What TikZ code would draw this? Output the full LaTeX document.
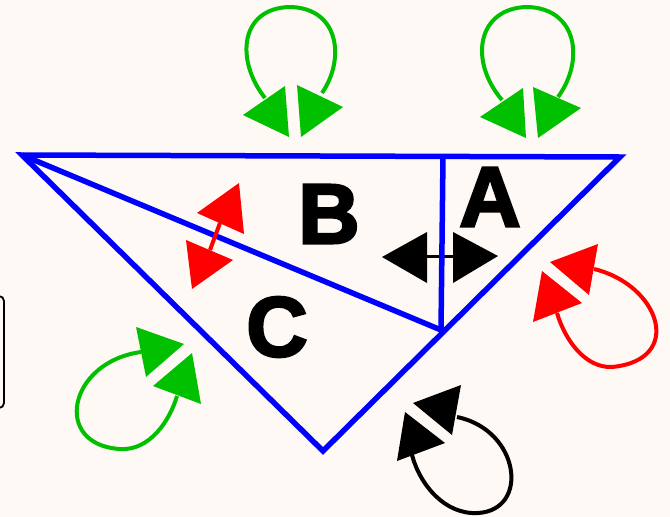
\documentclass[tikz,border=0pt]{standalone}
\usepackage{fontspec}
\newfontfamily\heavy{Liberation Sans}[FakeBold=3]
\definecolor{bg}{RGB}{254,249,244}
\definecolor{gr}{RGB}{0,192,0}
\begin{document}
\begin{tikzpicture}[x=1pt,y=-1pt,
  edge/.style={line width=5.5pt,blue},
  loopline/.style={line width=4pt},
  letter/.style={inner sep=0pt,font=\heavy\bfseries\fontsize{85}{85}\selectfont}]
\useasboundingbox (0,0) rectangle (670,517);
\fill[bg] (0,0) rectangle (670,517);
% partial box at left edge
\begin{scope}
\clip (0,0) rectangle (670,517);
\draw[line width=1.8pt,rounded corners=5pt] (-40,296) rectangle (4,408);
\end{scope}
% coordinates
\coordinate (tl) at (22,155);
\coordinate (tr) at (620,157);
\coordinate (bt) at (323,451);
\coordinate (mid) at (441,330);
\coordinate (top) at (443,157);
% black double arrow (under blue)
\fill (382,257) -- (427,232) -- (427,283) -- cycle;
\fill (453,232) -- (453,283) -- (498,256) -- cycle;
\draw[line width=3pt] (427,256) -- (453,256);
% triangle
\draw[edge,line join=miter] (tl) -- (tr) -- (bt) -- cycle;
\draw[edge] (tl) -- (mid);
\draw[edge] (top) -- (mid);
% letters
\node[letter] (B) at (329,214) {B};
\node[letter] (A) at (490,197) {A};
\node[letter] (C) at (277,327) {C};
% red double arrow
\draw[red,line width=4pt] (220,223) -- (210,250);
\fill[red] (239,183) -- (197,213) -- (244,234) -- cycle;
\fill[red] (186,240) -- (233,260) -- (192,289) -- cycle;
% top B loop
\draw[gr,loopline] (265,98) .. controls (235,60) and (240,8) .. (290,7) .. controls (340,8) and (345,60) .. (322,93);
\fill[gr] (243,115) -- (285,86) -- (289,137) -- cycle;
\fill[gr] (297,85) -- (343,107) -- (301,137) -- cycle;
% top A loop
\draw[gr,loopline] (502,100) .. controls (468,60) and (478,8) .. (527,7) .. controls (577,8) and (585,60) .. (558,97);
\fill[gr] (480,117) -- (523,88) -- (526,138) -- cycle;
\fill[gr] (533,87) -- (581,108) -- (538,138) -- cycle;
% red right loop
\draw[red,loopline] (594,269) .. controls (660,285) and (685,360) .. (612,367) .. controls (585,368) and (565,340) .. (557,313);
\fill[red] (598,244) -- (550,262) -- (589,295) -- cycle;
\fill[red] (542,271) -- (582,303) -- (533,322) -- cycle;
% green left loop
\draw[gr,loopline] (141,352) .. controls (68,362) and (52,445) .. (120,449) .. controls (150,451) and (170,420) .. (177,396);
\fill[gr] (136,327) -- (184,344) -- (146,377) -- cycle;
\fill[gr] (153,386) -- (192,353) -- (201,404) -- cycle;
% black bottom loop
\draw[loopline] (457,417) .. controls (520,430) and (530,510) .. (478,513) .. controls (445,515) and (420,485) .. (412,455);
\fill (461,385) -- (413,403) -- (452,435) -- cycle;
\fill (405,412) -- (445,443) -- (397,461) -- cycle;
\end{tikzpicture}
\end{document}
